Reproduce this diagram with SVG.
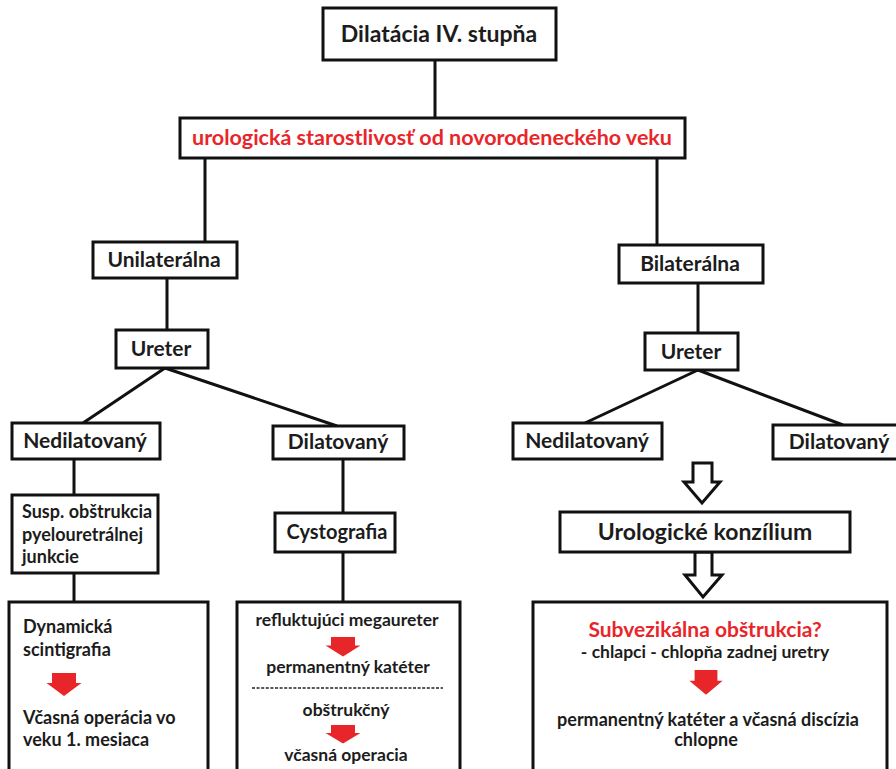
<svg xmlns="http://www.w3.org/2000/svg" width="896" height="769" viewBox="0 0 896 769">
<defs>
<style>
.box{fill:#fff;stroke:#111;stroke-width:3}
.ln{stroke:#111;stroke-width:3;fill:none}
text{font-family:Lato,"Open Sans","Liberation Sans",sans-serif;font-weight:bold;fill:#1c1c1c}
.c{text-anchor:middle}
.xl{font-size:23px}
.l{font-size:21px}
.m{font-size:18px}
.s{font-size:17.5px}
.red{fill:#e8262a}
.hollow{fill:#fff;stroke:#111;stroke-width:3;stroke-linejoin:miter}
</style>
<path id="ra" d="M-12,0 H12 V10 H17.5 L0,23 L-17.5,10 H-12 Z" fill="#e8262a"/>
</defs>
<rect width="896" height="769" fill="#fff"/>
<g id="connectors">
<line class="ln" x1="435" y1="60" x2="435" y2="118"/>
<line class="ln" x1="205" y1="158" x2="205" y2="242"/>
<line class="ln" x1="657" y1="158" x2="657" y2="245"/>
<line class="ln" x1="167" y1="278" x2="167" y2="330"/>
<line class="ln" x1="165" y1="368" x2="83" y2="423"/>
<line class="ln" x1="165" y1="368" x2="337" y2="426"/>
<line class="ln" x1="698" y1="283" x2="698" y2="333"/>
<line class="ln" x1="698" y1="370" x2="585" y2="423"/>
<line class="ln" x1="698" y1="370" x2="843" y2="425"/>
<line class="ln" x1="74" y1="459" x2="74" y2="495"/>
<line class="ln" x1="74" y1="573" x2="74" y2="602"/>
<line class="ln" x1="343" y1="459" x2="343" y2="513"/>
<line class="ln" x1="343" y1="552" x2="343" y2="602"/>
<path class="hollow" d="M693,463 H712 V482 H720 L702,503 L684,482 H693 Z"/>
<path class="hollow" d="M695,552 H712 V575 H722 L703,597 L685,575 H695 Z"/>
</g>
<g id="n_top"><rect class="box" x="323" y="8" width="233" height="52"/><text class="c xl" x="439" y="42">Dilatácia IV. stupňa</text></g>
<g id="n_care"><rect class="box" x="180" y="118" width="505" height="40"/><text class="c red" style="font-size:21.5px" x="432" y="145">urologická starostlivosť od novorodeneckého veku</text></g>
<g id="n_uni"><rect class="box" x="93" y="242" width="144" height="36"/><text class="c l" x="164" y="267">Unilaterálna</text></g>
<g id="n_ureterL"><rect class="box" x="116" y="330" width="92" height="38"/><text class="c l" x="161" y="356">Ureter</text></g>
<g id="n_nedL"><rect class="box" x="12" y="423" width="148" height="36"/><text class="c l" x="85" y="448">Nedilatovaný</text></g>
<g id="n_dilL"><rect class="box" x="273" y="426" width="131" height="33"/><text class="c l" x="338" y="449">Dilatovaný</text></g>
<g id="n_susp"><rect class="box" x="12" y="495" width="146" height="78"/>
<text class="m" x="22" y="518">Susp. obštrukcia</text>
<text class="m" x="22" y="541">pyelouretrálnej</text>
<text class="m" x="22" y="563">junkcie</text></g>
<g id="n_cysto"><rect class="box" x="275" y="513" width="120" height="39"/><text class="c" style="font-size:20px" x="337" y="539">Cystografia</text></g>
<g id="n_dyn"><rect class="box" x="9" y="602" width="199" height="180"/>
<text class="m" x="23" y="633">Dynamická</text>
<text class="m" x="23" y="656">scintigrafia</text>
<use href="#ra" transform="translate(64,673)"/>
<text class="m" x="23" y="724">Včasná operácia vo</text>
<text class="m" x="23" y="746">veku 1. mesiaca</text></g>
<g id="n_cystres"><rect class="box" x="237" y="602" width="223" height="180"/>
<text class="c s" x="347" y="626">refluktujúci megaureter</text>
<use href="#ra" transform="translate(343,637) scale(1,0.85)"/>
<text class="c s" x="348" y="673">permanentný katéter</text>
<line x1="252" y1="688" x2="443" y2="688" stroke="#222" stroke-width="1.6" stroke-dasharray="3,1.6"/>
<text class="c s" x="346" y="716">obštrukčný</text>
<use href="#ra" transform="translate(343,725) scale(1,0.8)"/>
<text class="c s" x="346" y="761">včasná operacia</text></g>
<g id="n_bil"><rect class="box" x="619" y="245" width="144" height="38"/><text class="c l" x="690" y="271">Bilaterálna</text></g>
<g id="n_ureterR"><rect class="box" x="645" y="333" width="93" height="37"/><text class="c l" x="691" y="359">Ureter</text></g>
<g id="n_nedR"><rect class="box" x="513" y="423" width="149" height="36"/><text class="c l" x="587" y="448">Nedilatovaný</text></g>
<g id="n_dilR"><rect class="box" x="773" y="425" width="130" height="34"/><text class="c l" x="839" y="449">Dilatovaný</text></g>
<g id="n_konz"><rect class="box" x="560" y="512" width="290" height="40"/><text class="c xl" x="705" y="540">Urologické konzílium</text></g>
<g id="n_subv"><rect class="box" x="533" y="602" width="354" height="180"/>
<text class="c red" style="font-size:21px" x="705" y="637">Subvezikálna obštrukcia?</text>
<text class="c s" x="705" y="658">- chlapci - chlopňa zadnej uretry</text>
<use href="#ra" transform="translate(706,670) scale(0.95,1.08)"/>
<text class="c m" x="708" y="726">permanentný katéter a včasná discízia</text>
<text class="c m" x="706" y="746">chlopne</text></g>
</svg>
